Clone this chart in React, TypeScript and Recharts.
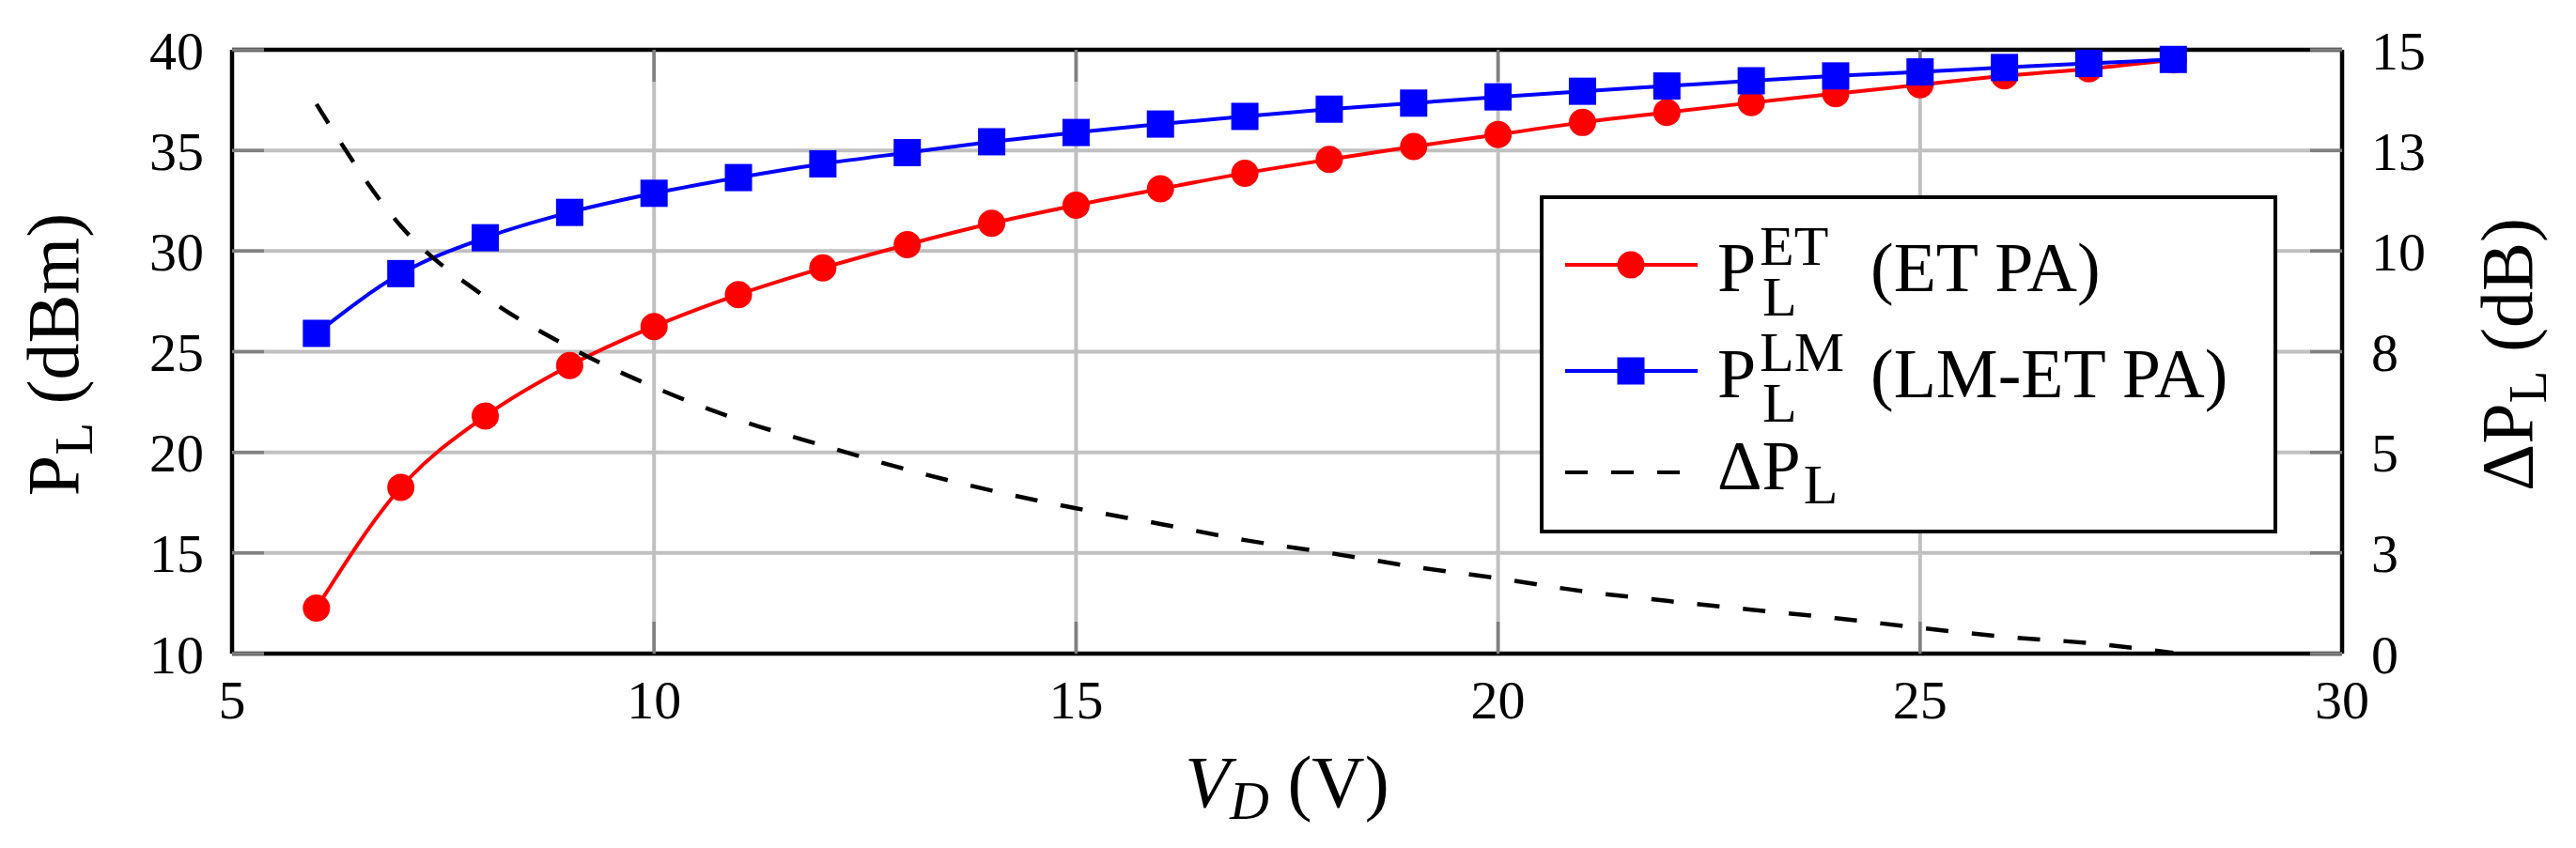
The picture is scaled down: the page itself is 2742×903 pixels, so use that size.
import React from 'react';
import {
  LineChart,
  Line,
  XAxis,
  YAxis,
  CartesianGrid,
  Legend,
} from 'recharts';

// drain voltage (V)
const vd = [6, 7, 8, 9, 10, 11, 12, 13, 14, 15, 16, 17, 18, 19, 20, 21, 22, 23, 24, 25, 26, 27, 28];
// load power, ET PA (dBm)
const pEt = [
  12.26, 18.26, 21.8, 24.31, 26.25, 27.84, 29.16, 30.32, 31.38, 32.28, 33.09, 33.87,
  34.55, 35.19, 35.79, 36.39, 36.89, 37.37, 37.82, 38.26, 38.7, 39.06, 39.5,
];
// load power, LM-ET PA (dBm)
const pLm = [
  25.91, 28.88, 30.66, 31.92, 32.87, 33.65, 34.33, 34.89, 35.43, 35.89, 36.31, 36.69,
  37.05, 37.35, 37.66, 37.94, 38.2, 38.46, 38.7, 38.9, 39.12, 39.32, 39.52,
];
// power difference (dB)
const deltaP = [
  13.65, 10.62, 8.86, 7.61, 6.62, 5.81, 5.17, 4.57, 4.05, 3.61, 3.22, 2.82,
  2.5, 2.16, 1.87, 1.55, 1.31, 1.09, 0.88, 0.64, 0.42, 0.26, 0.02,
];

const xTicks = [5, 10, 15, 20, 25, 30];
const leftTicks = [10, 15, 20, 25, 30, 35, 40];
const rightTicks = [0, 2.5, 5, 7.5, 10, 12.5, 15];

const data = vd.map((v, i) => ({ v, et: pEt[i], lm: pLm[i], d: deltaP[i] }));

const FONT = '"Liberation Serif", "Times New Roman", serif';
const RED = '#ff0000';
const BLUE = '#0000ff';
const TICK_STROKE = { stroke: '#808080', strokeWidth: 3.5 };
const AXIS_STROKE = { stroke: '#000', strokeWidth: 4.5 };
const tickFont = { fontFamily: FONT, fontSize: 58, fill: '#000' };

const redDot = (p: any) => (
  <circle key={`r${p.index}`} cx={p.cx} cy={p.cy} r={14.5} fill={RED} />
);
const blueDot = (p: any) => (
  <rect key={`b${p.index}`} x={p.cx - 14.5} y={p.cy - 14.5} width={29} height={29} fill={BLUE} />
);

function LegendBox() {
  const t = { fontFamily: FONT, fill: '#000' };
  return (
    <svg width={785} height={360} style={{ display: 'block' }}>
      <rect x={2} y={2} width={781} height={356} fill="#fff" stroke="#000" strokeWidth={4} />
      <line x1={27} x2={168} y1={74} y2={74} stroke={RED} strokeWidth={4} />
      <circle cx={97} cy={74} r={14.5} fill={RED} />
      <text x={189} y={102} fontSize={74} {...t}>
        P
        <tspan x={234} y={74} fontSize={60}>ET</tspan>
        <tspan x={237} y={128} fontSize={60}>L</tspan>
        <tspan x={352} y={102}>(ET PA)</tspan>
      </text>

      <line x1={27} x2={168} y1={187} y2={187} stroke={BLUE} strokeWidth={4} />
      <rect x={82.5} y={172.5} width={29} height={29} fill={BLUE} />
      <text x={189} y={215} fontSize={74} {...t}>
        P
        <tspan x={234} y={187} fontSize={60}>LM</tspan>
        <tspan x={237} y={241} fontSize={60}>L</tspan>
        <tspan x={352} y={215}>(LM-ET PA)</tspan>
      </text>

      <line x1={27} x2={168} y1={295} y2={295} stroke="#000" strokeWidth={4} strokeDasharray="24 25" />
      <text x={189} y={313} fontSize={74} {...t}>
        ΔP<tspan fontSize={60} dx={3} dy={15}>L</tspan>
      </text>
    </svg>
  );
}

const xLabel = (p: any) => {
  const vb = p.viewBox;
  const cx = vb.x + vb.width / 2;
  const by = vb.y + 163;
  return (
    <text x={cx} y={by} textAnchor="middle" fontFamily={FONT} fontSize={78} fill="#000">
      <tspan fontStyle="italic">V</tspan>
      <tspan fontStyle="italic" fontSize={58} dy={13}>D</tspan>
      <tspan dy={-13}> (V)</tspan>
    </text>
  );
};

const leftLabel = (p: any) => {
  const vb = p.viewBox;
  const bx = vb.x - 64;
  const cy = vb.y + vb.height / 2 + 3;
  return (
    <text x={bx} y={cy} transform={`rotate(-90, ${bx}, ${cy})`} textAnchor="middle" fontFamily={FONT} fontSize={78} fill="#000">
      P<tspan fontSize={57} dy={15}>L</tspan>
      <tspan dy={-15}> (dBm)</tspan>
    </text>
  );
};

const rightLabel = (p: any) => {
  const vb = p.viewBox;
  const bx = vb.x + 202;
  const cy = vb.y + vb.height / 2 + 3;
  return (
    <text x={bx} y={cy} transform={`rotate(-90, ${bx}, ${cy})`} textAnchor="middle" fontFamily={FONT} fontSize={78} fill="#000">
      ΔP<tspan fontSize={57} dy={15}>L</tspan>
      <tspan dy={-15}> (dB)</tspan>
    </text>
  );
};

export default function App() {
  return (
    <div style={{ width: 2742, height: 903, background: '#fff' }}>
      <style>{'body{margin:0;background:#fff}'}</style>
      <LineChart
        width={2742}
        height={903}
        data={data}
        margin={{ top: 0, right: 149, bottom: 107, left: 147 }}
      >
        <CartesianGrid yAxisId="left" stroke="#c0c0c0" strokeWidth={4} />
        <XAxis
          dataKey="v"
          type="number"
          domain={[5, 30]}
          ticks={xTicks}
          height={100}
          tickSize={-34}
          tickMargin={62}
          tick={tickFont}
          tickLine={TICK_STROKE}
          axisLine={AXIS_STROKE}
          label={{ content: xLabel }}
        />
        <XAxis
          xAxisId="top"
          orientation="top"
          dataKey="v"
          type="number"
          domain={[5, 30]}
          ticks={xTicks}
          height={53}
          tickSize={-34}
          tickFormatter={() => ''}
          tickLine={TICK_STROKE}
          axisLine={AXIS_STROKE}
        />
        <YAxis
          yAxisId="left"
          type="number"
          domain={[10, 40]}
          ticks={leftTicks}
          width={100}
          tickSize={-34}
          tickMargin={64}
          tick={tickFont}
          tickLine={TICK_STROKE}
          axisLine={AXIS_STROKE}
          label={{ content: leftLabel }}
        />
        <YAxis
          yAxisId="right"
          orientation="right"
          type="number"
          domain={[0, 15]}
          ticks={rightTicks}
          tickFormatter={(v: number) => String(Math.round(v))}
          width={100}
          tickSize={-34}
          tickMargin={65}
          tick={{ ...tickFont, textAnchor: 'start' }}
          tickLine={TICK_STROKE}
          axisLine={AXIS_STROKE}
          label={{ content: rightLabel }}
        />
        <Line
          yAxisId="left"
          type="monotone"
          dataKey="et"
          name="ET PA"
          stroke={RED}
          strokeWidth={4}
          dot={redDot}
          activeDot={false}
          isAnimationActive={false}
        />
        <Line
          yAxisId="left"
          type="monotone"
          dataKey="lm"
          name="LM-ET PA"
          stroke={BLUE}
          strokeWidth={4}
          dot={blueDot}
          activeDot={false}
          isAnimationActive={false}
        />
        <Line
          yAxisId="right"
          type="monotone"
          dataKey="d"
          name="ΔPL"
          stroke="#000"
          strokeWidth={4.5}
          strokeDasharray="24 25"
          dot={false}
          activeDot={false}
          isAnimationActive={false}
        />
        <Legend
          layout="horizontal"
          verticalAlign="middle"
          align="center"
          content={() => <LegendBox />}
          wrapperStyle={{ left: 1639, top: 208, width: 785, height: 360 }}
        />
      </LineChart>
    </div>
  );
}
